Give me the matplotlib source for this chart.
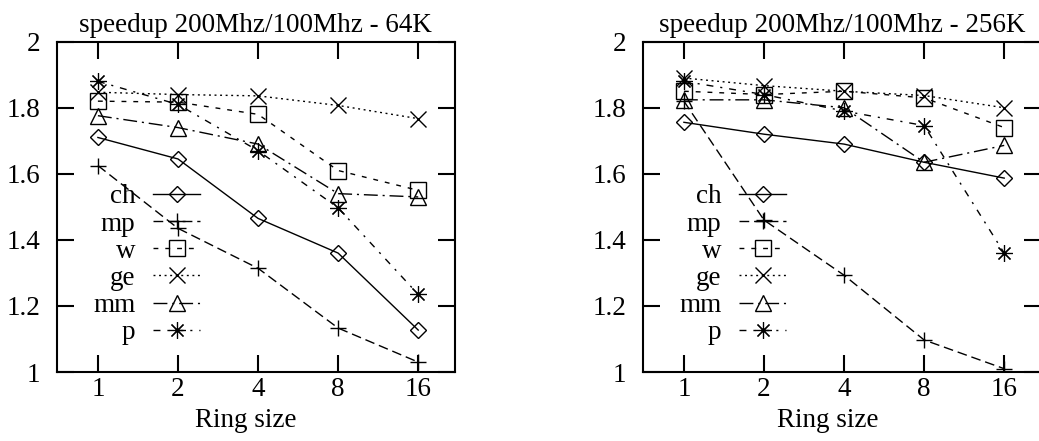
import numpy as np
import matplotlib
matplotlib.use("Agg")
import matplotlib.pyplot as plt
from matplotlib.legend_handler import HandlerLine2D
from matplotlib.ticker import FixedLocator, FuncFormatter

plt.rcParams['font.family'] = ['Liberation Serif', 'DejaVu Serif']
FS = 19.5
plt.rcParams['font.size'] = FS

ring_sizes = [1, 2, 4, 8, 16]
series_names = ["ch", "mp", "w", "ge", "mm", "p"]

# 64K
ch_64 = [1.71, 1.645, 1.465, 1.36, 1.127]
mp_64 = [1.625, 1.435, 1.314, 1.133, 1.03]
w_64 = [1.82, 1.817, 1.78, 1.61, 1.55]
ge_64 = [1.847, 1.84, 1.836, 1.807, 1.767]
mm_64 = [1.776, 1.74, 1.69, 1.54, 1.53]
p_64 = [1.88, 1.81, 1.67, 1.497, 1.235]

# 256K
ch_256 = [1.756, 1.72, 1.69, 1.635, 1.587]
mp_256 = [1.82, 1.46, 1.293, 1.097, 1.01]
w_256 = [1.85, 1.84, 1.85, 1.83, 1.74]
ge_256 = [1.89, 1.867, 1.85, 1.837, 1.80]
mm_256 = [1.824, 1.824, 1.80, 1.635, 1.686]
p_256 = [1.88, 1.84, 1.79, 1.746, 1.36]

titles = ["speedup 200Mhz/100Mhz - 64K", "speedup 200Mhz/100Mhz - 256K"]
x_label = "Ring size"
y_ticks = [1, 1.2, 1.4, 1.6, 1.8, 2]

styles = {
    "ch": dict(marker='D', ms=8, dashes=[]),
    "mp": dict(marker='+', ms=11, dashes=[7, 3.5]),
    "w": dict(marker='s', ms=11, dashes=[3.5, 5]),
    "ge": dict(marker='x', ms=11, dashes=[1.4, 2.6]),
    "mm": dict(marker='^', ms=11, dashes=[10, 3.5, 1.5, 3.5]),
    "p": dict(marker=(8, 2, 0), ms=12, dashes=[5, 5, 1.5, 5]),
}


class OffsetMarkerHandler(HandlerLine2D):
    def get_xdata(self, legend, xdescent, ydescent, width, height, fontsize):
        xdata = np.array([-xdescent, -xdescent + width])
        xdata_marker = np.array([-xdescent + 0.34 * width])
        return xdata, xdata_marker


W, H = 1039, 441
fig = plt.figure(figsize=(W / 100, H / 100), dpi=100)
axes_px = [(56.7, 41.7, 398.3, 330.3), (642.7, 41.7, 398.3, 330.3)]
xlabel_pos = [0.474, 0.465]

datasets = [
    [ch_64, mp_64, w_64, ge_64, mm_64, p_64],
    [ch_256, mp_256, w_256, ge_256, mm_256, p_256],
]

for (x0, y0, w, h), data, title, xlp in zip(axes_px, datasets, titles, xlabel_pos):
    ax = fig.add_axes([x0 / W, 1 - (y0 + h) / H, w / W, h / H])
    lines = []
    for name, vals in zip(series_names, data):
        st = styles[name]
        ln, = ax.plot(ring_sizes, vals, color='black', lw=1.0,
                      marker=st['marker'], ms=st['ms'],
                      mew=0.85 if name == 'p' else 1.0,
                      mfc='none', mec='black', label=name)
        if st['dashes']:
            ln.set_dashes(st['dashes'])
        lines.append(ln)
    ax.set_xscale('log', base=2)
    ax.set_xlim(0.7, 22)
    ax.set_ylim(1, 2)
    ax.xaxis.set_major_locator(FixedLocator(ring_sizes))
    ax.xaxis.set_minor_locator(FixedLocator([]))
    ax.xaxis.set_major_formatter(FuncFormatter(lambda v, p: f"{v:g}"))
    ax.yaxis.set_major_locator(FixedLocator(y_ticks))
    ax.yaxis.set_major_formatter(FuncFormatter(lambda v, p: f"{v:g}"))
    ax.tick_params(direction='in', length=12, width=1.5, top=True, right=True,
                   labelsize=FS)
    ax.tick_params(axis='y', pad=12)
    ax.tick_params(axis='x', pad=3.5)
    for s in ax.spines.values():
        s.set_linewidth(1.5)
    ax.set_title(title, fontsize=FS, pad=7)
    ax.set_xlabel(x_label, fontsize=FS, labelpad=0)
    ax.xaxis.set_label_coords(xlp, -0.109, transform=ax.transAxes)
    ax.xaxis.label.set_va('top')
    leg = ax.legend(handles=lines, loc='upper right',
                    bbox_to_anchor=(0.36, 0.568), frameon=False,
                    markerfirst=False, handlelength=1.73, handletextpad=0.66,
                    labelspacing=0.08, borderpad=0, borderaxespad=0,
                    fontsize=FS,
                    handler_map={l: OffsetMarkerHandler() for l in lines})

fig.savefig("out.png", dpi=100)
